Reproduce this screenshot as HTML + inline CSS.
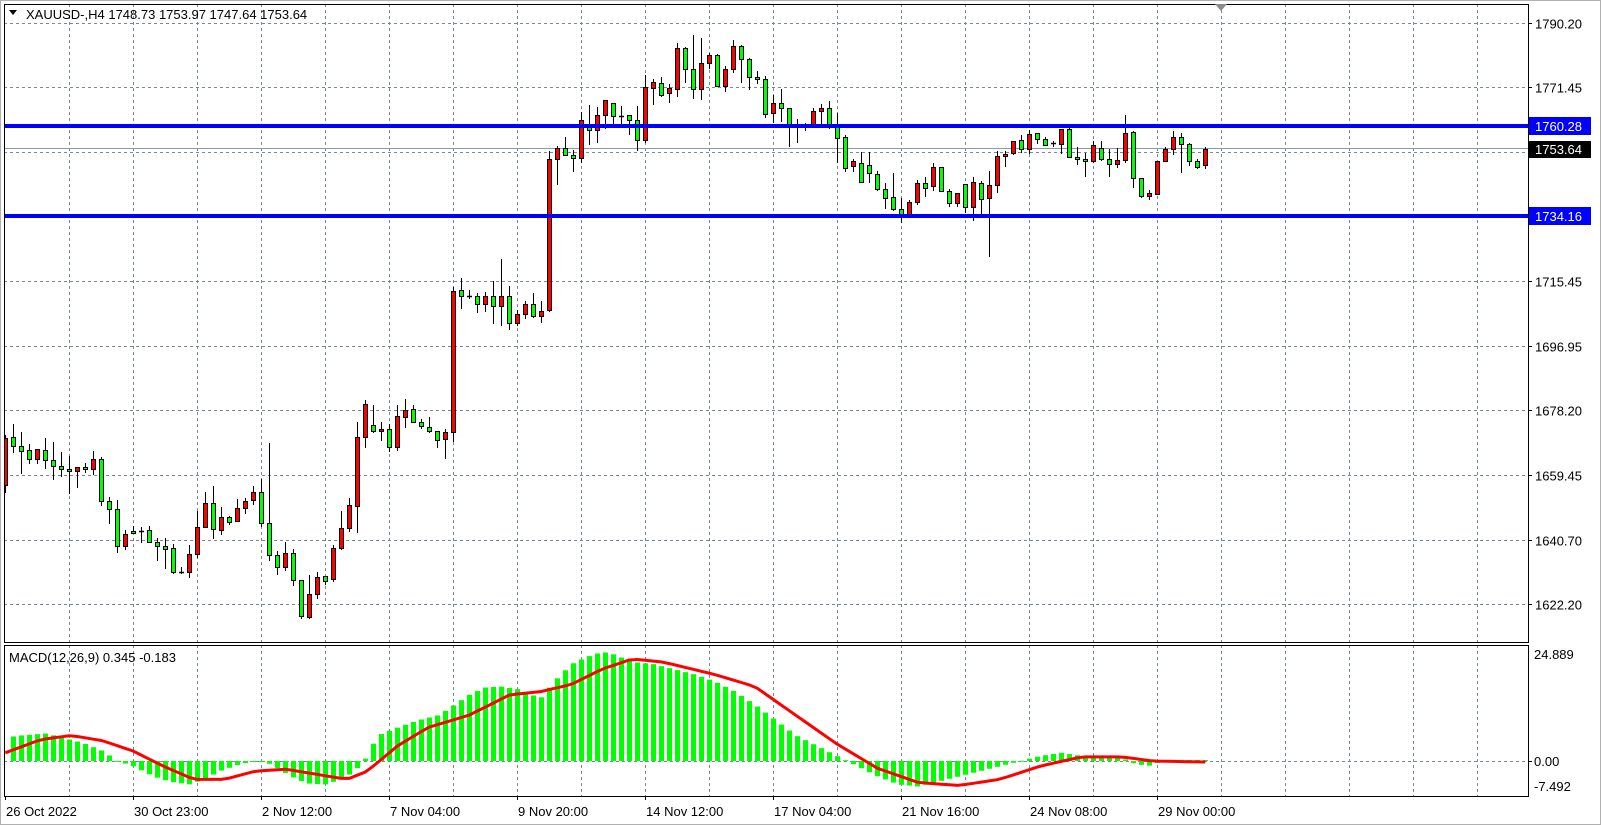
<!DOCTYPE html>
<html><head><meta charset="utf-8"><style>
html,body{margin:0;padding:0;background:#fff;}
svg{display:block;font-family:"Liberation Sans",sans-serif;}
</style></head><body>
<svg id="s" width="1601" height="825" xmlns="http://www.w3.org/2000/svg"></svg>
<script>
const S=document.getElementById('s');let h='';
const L=4,R=1528,T=4,B=642,MT=645,MB=796,Z=761;
h+=`<rect x="0" y="0" width="1601" height="825" fill="#fff"/>`;
h+=`<rect x="0.5" y="0.5" width="1600" height="824" fill="none" stroke="#b0b0b0"/>`;
// grid
for(let x=69;x<R;x+=64){h+=`<line x1="${x+.5}" y1="${T}" x2="${x+.5}" y2="${B}" stroke="#778899" stroke-dasharray="3,3"/>`;h+=`<line x1="${x+.5}" y1="${MT}" x2="${x+.5}" y2="${MB}" stroke="#778899" stroke-dasharray="3,3"/>`;}
const pl=['1790.20','1771.45','1752.70','1733.95','1715.45','1696.95','1678.20','1659.45','1640.70','1622.20'];
for(let k=0;k<10;k++){const y=Math.round(22.7+64.6*k)+.5;h+=`<line x1="${L}" y1="${y}" x2="${R}" y2="${y}" stroke="#778899" stroke-dasharray="3,3"/><line x1="${R}" y1="${y}" x2="${R+4}" y2="${y}" stroke="#000"/>`;if(k!=2&&k!=3)h+=`<text x="1535" y="${y+5}" font-size="13" fill="#000">${pl[k]}</text>`;}
h+=`<line x1="${L}" y1="${Z+.5}" x2="${R}" y2="${Z+.5}" stroke="#778899" stroke-dasharray="3,3"/>`;
// current price line
h+=`<line x1="${L}" y1="148.5" x2="${R}" y2="148.5" stroke="#8a9aaa"/>`;
// candles
const C=`r 435 438 485 493|g 424 437 446 453|g 432 446 451 474|g 444 450 459 464|r 449 449 459 464|g 438 450 460 469|g 442 460 466 480|g 452 466 469 477|g 456 469 471 494|r 467 467 471 488|g 463 467 469 473|r 451 459 469 475|g 457 459 501 506|g 497 501 509 524|g 500 509 546 553|r 530 534 546 550|g 526 531 533 534|x 527 531 531 543|g 526 530 542 543|g 538 542 546 561|g 538 546 549 569|g 544 548 572 574|x 567 572 572 574|r 545 554 572 578|r 511 527 554 558|r 492 503 527 527|g 486 503 529 539|r 507 517 530 535|g 516 517 522 525|r 499 508 521 522|r 498 501 508 514|r 486 492 500 505|g 479 492 523 527|g 443 523 555 561|g 551 555 567 575|r 542 553 567 571|g 549 553 580 586|g 580 580 616 619|r 575 594 617 619|r 572 577 594 599|g 576 576 581 585|r 545 548 579 582|r 511 528 548 550|r 498 505 528 532|r 422 437 506 533|r 400 404 437 448|g 405 425 431 433|r 422 429 431 441|g 424 429 447 452|r 405 416 447 451|r 399 410 417 428|g 405 409 422 423|g 419 422 426 429|g 417 427 431 433|g 431 431 440 448|r 429 432 439 459|r 287 291 432 442|g 278 290 296 309|x 290 296 296 299|g 293 296 304 313|r 292 296 304 312|g 281 296 306 324|r 259 296 306 326|g 286 296 323 330|r 310 314 323 326|r 301 304 314 319|g 293 304 316 318|r 301 311 316 323|r 151 159 310 312|r 146 148 159 185|g 137 148 155 155|g 150 155 158 172|r 112 120 158 163|g 105 127 130 145|r 107 115 130 143|r 100 100 115 129|g 103 103 116 124|x 106 116 116 124|g 115 115 120 135|g 106 120 140 151|r 75 87 140 143|r 79 82 88 105|g 77 83 95 97|r 84 88 93 103|r 43 48 89 97|g 47 48 69 83|g 35 69 89 99|r 38 63 89 100|r 53 55 63 69|g 54 55 86 87|r 66 69 86 92|r 40 46 69 73|g 45 46 59 83|g 58 59 77 90|g 71 77 79 84|g 76 79 114 118|r 95 103 113 123|g 89 103 108 122|g 108 108 127 147|x 119 126 126 143|x 123 126 126 131|r 108 111 127 128|r 104 108 111 124|g 101 108 126 129|g 113 126 138 163|g 135 137 168 172|r 159 161 166 172|g 152 163 182 183|g 152 165 173 183|g 171 174 189 191|g 183 189 198 209|g 173 197 209 211|g 198 209 214 223|r 200 202 214 214|r 180 183 202 205|g 177 183 188 197|r 163 167 186 191|g 167 167 191 191|g 189 191 203 207|r 193 193 203 207|g 184 184 207 213|r 177 182 207 221|g 181 183 199 215|r 171 185 198 257|r 151 156 185 193|r 151 154 156 167|r 141 141 153 155|g 135 140 149 153|r 130 134 149 154|g 133 133 139 144|g 137 139 145 146|x 141 143 143 147|r 129 129 144 154|g 127 129 157 157|g 147 157 159 165|g 153 159 161 177|r 141 145 161 163|g 141 148 159 161|g 149 159 164 177|r 148 160 164 168|r 115 133 160 163|g 131 132 178 188|g 178 178 196 198|r 190 193 196 200|r 161 161 194 195|r 147 149 161 162|r 131 137 149 155|g 133 137 144 173|g 143 144 161 166|g 159 161 167 169|r 147 149 165 169`.split('|');
C.forEach((s,i)=>{const p=s.split(' ');const c=p[0],a=+p[1],o=+p[2],b=+p[3],l=+p[4];const cx=Math.round(5.3+8*i);
if(cx<L)return;
h+=`<line x1="${cx+.5}" y1="${a}" x2="${cx+.5}" y2="${l}" stroke="#000"/>`;
if(c=='x'){h+=`<line x1="${cx-2}" y1="${o+.5}" x2="${cx+3}" y2="${o+.5}" stroke="#000" stroke-width="1.5"/>`;}
else{const bx=Math.max(cx-2,L);h+=`<rect x="${bx+.5}" y="${o+.5}" width="${cx+3-bx-1+0}" height="${Math.max(b-o,1)}" fill="${c=='r'?'#ff0000':'#00ff00'}" stroke="#000"/>`;}
});
// blue lines
h+=`<rect x="${L}" y="124" width="${R-L}" height="4" fill="#0000ff"/><rect x="${L}" y="214" width="${R-L}" height="4" fill="#0000ff"/>`;
h+=`<rect x="1529" y="117" width="62" height="18" fill="#0000ff"/><text x="1535" y="131" font-size="13" fill="#fff">1760.28</text>`;
h+=`<rect x="1529" y="207" width="62" height="18" fill="#0000ff"/><text x="1535" y="221" font-size="13" fill="#fff">1734.16</text>`;
h+=`<rect x="1529" y="141" width="62" height="17" fill="#000"/><text x="1535" y="154" font-size="13" fill="#fff">1753.64</text>`;
// MACD
function interp(pts,x){for(let k=0;k<pts.length-1;k++){if(x>=pts[k][0]&&x<=pts[k+1][0]){const t=(x-pts[k][0])/(pts[k+1][0]-pts[k][0]);return pts[k][1]+t*(pts[k+1][1]-pts[k][1]);}}return x<pts[0][0]?pts[0][1]:pts[pts.length-1][1];}
const HP=[[5,722],[20,720],[45,718],[60,722],[80,727],[100,735],[115,745],[130,750],[150,760],[165,765],[185,768],[200,763],[215,755],[235,748],[250,745],[265,748],[285,760],[300,767],[320,768],[340,760],[355,748],[370,720],[390,712],[410,705],[430,700],[445,690],[460,680],[475,673],[490,672],[510,675],[520,680],[530,683],[545,665],[560,650],[575,643],[590,638],[600,640],[620,648],[640,650],[660,655],[680,660],[700,667],[720,677],[740,690],[760,705],[780,720],[800,730],[820,740],[840,750],[860,760],[880,768],[900,770],[920,765],[940,760],[960,755],[980,750],[1000,745],[1020,740],[1040,737],[1060,740],[1080,741],[1100,742],[1110,747],[1125,750],[1140,745],[1160,744],[1180,744]];
const SP=[[5,737],[40,724],[70,720],[100,725],[130,735],[160,750],[190,763],[220,763],[250,755],[280,753],[310,758],[340,763],[360,755],[390,730],[420,712],[460,700],[500,680],[530,677],[560,670],[590,655],[620,645],[650,648],[700,660],[740,672],[780,700],[820,728],[860,752],[900,766],[940,769],[980,763],[1020,750],[1060,741],[1100,741],[1130,745],[1180,746]];
for(let i=0;i<151;i++){const cx=Math.round(5.3+8*i);if(cx<L+2)continue;const yo=interp(HP,cx/1.02);const y=Z-(745-yo)*1.02;const t=Math.min(y,Z),hh=Math.abs(y-Z);h+=`<rect x="${cx-2}" y="${t}" width="5" height="${Math.max(hh,1)}" fill="#00ff00"/>`;}
let d='';for(let i=0;i<151;i++){const cx=Math.max(5.3+8*i,L+1);const y=Z-(745-interp(SP,cx/1.02))*1.02;d+=(i?'L':'M')+cx.toFixed(1)+' '+y.toFixed(1);}
h+=`<path d="${d}" fill="none" stroke="#ff0000" stroke-width="3"/>`;
// frames
h+=`<rect x="${L+.5}" y="${T+.5}" width="${R-L}" height="${B-T}" fill="none" stroke="#000"/>`;
h+=`<rect x="${L+.5}" y="${MT+.5}" width="${R-L}" height="${MB-MT}" fill="none" stroke="#000"/>`;
h+=`<path d="M1215 4 L1227 4 L1221 11 Z" fill="#8c8c8c"/>`;
// MACD axis
[['24.889',659],['0.00',766],['-7.492',791]].forEach(a=>h+=`<text x="1534" y="${a[1]}" font-size="13" fill="#000">${a[0]}</text>`);
h+=`<line x1="${R}" y1="761.5" x2="${R+4}" y2="761.5" stroke="#000"/>`;
// time
const tl=['26 Oct 2022','30 Oct 23:00','2 Nov 12:00','7 Nov 04:00','9 Nov 20:00','14 Nov 12:00','17 Nov 04:00','21 Nov 16:00','24 Nov 08:00','29 Nov 00:00'];
tl.forEach((t,k)=>{const x=k==0?5:5+128*k;h+=`<line x1="${x+.5}" y1="${MB}" x2="${x+.5}" y2="${MB+4}" stroke="#000"/><text x="${x+1}" y="816" font-size="13" fill="#000">${t}</text>`;});
h+=`<path d="M9 10 L17 10 L13 15 Z" fill="#000"/><text x="26" y="19" font-size="13" fill="#000">XAUUSD-,H4  1748.73 1753.97 1747.64 1753.64</text>`;
h+=`<text x="9" y="662" font-size="13" fill="#000">MACD(12,26,9) 0.345 -0.183</text>`;
S.innerHTML=h;
</script>
</body></html>
